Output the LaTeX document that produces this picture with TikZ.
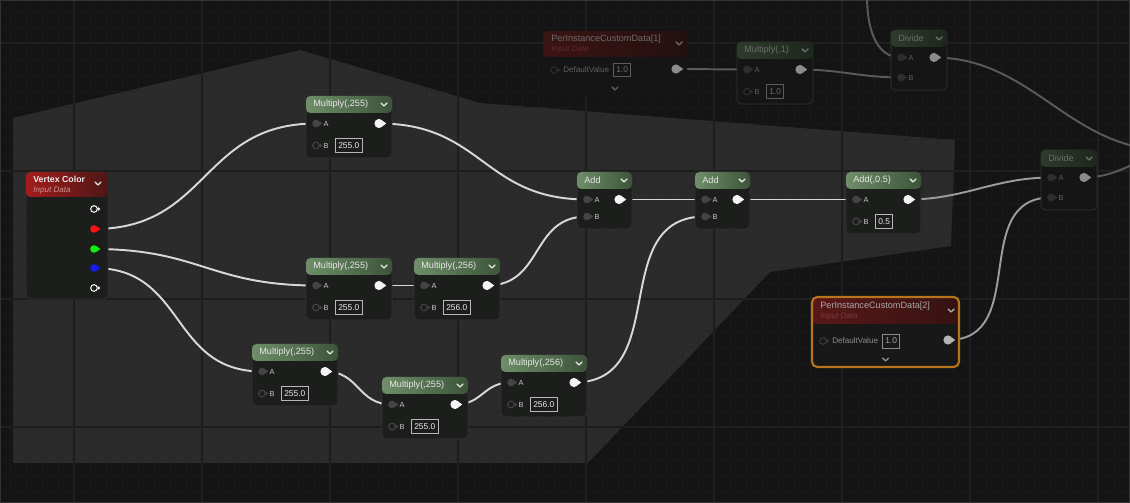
\documentclass[tikz,border=0pt]{standalone}
\usepackage{fontspec}
\newfontfamily\uifont{Liberation Sans}
\usetikzlibrary{calc}
\newcommand{\fsz}[1]{\fontsize{#1}{#1}\selectfont}
% canvas
\definecolor{canvasc}{HTML}{141414}
\definecolor{gminc}{HTML}{191919}
\definecolor{gmajc}{HTML}{1F1F1F}
\definecolor{zonec}{HTML}{2B2B2B}
\definecolor{zminc}{HTML}{272727}
\definecolor{zmajc}{HTML}{1D1D1D}
\definecolor{framec}{HTML}{333333}
% lit nodes
\definecolor{bodylit}{HTML}{1C1E1C}
\definecolor{hdAlit}{HTML}{6F8E69}
\definecolor{hdBlit}{HTML}{3C5439}
\definecolor{txtlit}{HTML}{E8E8E8}
\definecolor{lbllit}{HTML}{C8C8C8}
\definecolor{pinlit}{HTML}{444444}
\definecolor{outlit}{HTML}{F4F4F4}
\definecolor{boxlit}{HTML}{B8B8B8}
% dim nodes
\definecolor{bodydim}{HTML}{141514}
\definecolor{hdAdim}{HTML}{2E3B2C}
\definecolor{hdBdim}{HTML}{1E271D}
\definecolor{txtdim}{HTML}{6C6C6C}
\definecolor{lbldim}{HTML}{5E5E5E}
\definecolor{pindim}{HTML}{2E2E2E}
\definecolor{outdim}{HTML}{8C8C8C}
\definecolor{boxdim}{HTML}{5C5C5C}
\definecolor{rdAdim}{HTML}{3C1414}
\definecolor{rdBdim}{HTML}{241010}
\definecolor{subdim}{HTML}{5E2A2A}
% selected input node
\definecolor{bodymid}{HTML}{181818}
\definecolor{txtmid}{HTML}{A8A8A8}
\definecolor{lblmid}{HTML}{8C8C8C}
\definecolor{pinmid}{HTML}{3A3A3A}
\definecolor{outmid}{HTML}{B4B4B4}
\definecolor{boxmid}{HTML}{8A8A8A}
\definecolor{rdAmid}{HTML}{5A1818}
\definecolor{rdBmid}{HTML}{361212}
\definecolor{submid}{HTML}{7A3A3A}
\definecolor{selc}{HTML}{B8741C}
% vertex colour
\definecolor{vcA}{HTML}{A31D1D}
\definecolor{vcB}{HTML}{4E1616}
\definecolor{vcsub}{HTML}{D09090}
\definecolor{pinred}{HTML}{FF1010}
\definecolor{pingreen}{HTML}{10F010}
\definecolor{pinblue}{HTML}{1818F0}
% wires
\definecolor{wirelit}{HTML}{D8D8D8}
\definecolor{wiremid}{HTML}{9C9C9C}
\definecolor{wiredim}{HTML}{5A5A5A}
\tikzset{
  ttl/.style={font=\uifont\fsz{5.2},inner sep=0pt,anchor=west,text=txtlit},
  sub/.style={font=\uifont\itshape\fsz{4.6},inner sep=0pt,anchor=west},
  plbl/.style={font=\uifont\fsz{4.2},inner sep=0pt},
  vbox/.style={draw,line width=0.5pt,font=\uifont\fsz{4.8},inner xsep=1.6pt,inner ysep=0.8pt,minimum height=7.9pt,anchor=west},
  chev/.style={line width=0.8pt,line cap=round,line join=round},
  wire/.style={line width=1.1pt,draw=wirelit},
  wirem/.style={wire,draw=wiremid},
  wired/.style={wire,draw=wiredim},
  pics/pinf/.style={code={\fill[#1] (0,0) circle[radius=3.8] (3.4,-2.2) -- (6.4,0) -- (3.4,2.2) -- cycle;}},
  pics/pout/.style={code={\fill[#1] (0,0) circle[radius=4.6] (4,-2.4) -- (7.2,0) -- (4,2.4) -- cycle;}},
  pics/pino/.style={code={\draw[#1,line width=0.6pt] (0,0) circle[radius=3.3]; \fill[#1] (3.9,-2) -- (6.4,0) -- (3.9,2) -- cycle;}},
}
\pgfdeclarelayer{bg}
\pgfdeclarelayer{wires}
\pgfsetlayers{bg,wires,main}
\newcommand{\mathnode}[8]{% name, x, y, width, height, title, B value, lit/dim
  \begin{scope}[shift={(#2,#3)}]
    \fill[body#8,rounded corners=2.5pt] (0,0) rectangle (#4,#5);
    \draw[black!80,line width=0.4pt,rounded corners=2.5pt] (0,0) rectangle (#4,#5);
    \shade[left color=hdA#8,right color=hdB#8,rounded corners=2.5pt] (0,0) rectangle (#4,17);
    \node[ttl,text=txt#8] (#1-t) at (7,8.5) {#6};
    \draw[chev,draw=txt#8] (#4-11,7) -- (#4-8,10) -- (#4-5,7);
    \coordinate (#1-a) at (10,27.5);
    \coordinate (#1-b) at (10,#5-12.5);
    \coordinate (#1-o) at (#4-13,27.5);
    \pic at (#1-a) {pinf=pin#8};
    \pic at (#1-o) {pout=out#8};
    \node[plbl,text=lbl#8] (#1-la) at (20,27.5) {A};
    \node[plbl,text=lbl#8] (#1-lb) at (20,#5-12.5) {B};
    \if\relax\detokenize{#7}\relax
      \pic at (#1-b) {pinf=pin#8};
    \else
      \pic at (#1-b) {pino=pin#8};
      \node[vbox,draw=box#8,text=txt#8] (#1-v) at (29,#5-12.5) {#7};
    \fi
  \end{scope}}
\newcommand{\inputnode}[7]{% name, x, y, width, height, title, dim/mid
  \begin{scope}[shift={(#2,#3)}]
    \fill[body#7,rounded corners=2.5pt] (0,0) rectangle (#4,#5);
    \shade[left color=rdA#7,right color=rdB#7,rounded corners=2.5pt] (0,0) rectangle (#4,26);
    \node[ttl,text=txt#7] (#1-t) at (8,8) {#6};
    \node[sub,text=sub#7] (#1-s) at (8,19) {Input Data};
    \draw[chev,draw=txt#7] (#4-11,11) -- (#4-8,14) -- (#4-5,11);
    \coordinate (#1-i) at (11,#5-27);
    \coordinate (#1-o) at (#4-11,#5-28);
    \pic at (#1-i) {pino=pin#7};
    \node[plbl,font=\uifont\fsz{4.6},text=lbl#7,anchor=west] (#1-l) at (20,#5-27) {DefaultValue};
    \node[vbox,draw=box#7,text=txt#7] (#1-v) at (70,#5-27) {1.0};
    \pic at (#1-o) {pout=out#7};
    \draw[chev,draw=lbl#7] (#4/2-3,#5-10) -- (#4/2,#5-7) -- (#4/2+3,#5-10);
  \end{scope}}
\def\zonepath{(13,118) -- (300,50) -- (480,103) -- (955,140) -- (951,246) -- (770,272) -- (588,463) -- (13,463) -- cycle}

\begin{document}
\begin{tikzpicture}[x=0.02cm,y=-0.02cm]
  \useasboundingbox (0,0) rectangle (1130,503);
  \begin{pgfonlayer}{bg}
    \fill[canvasc] (0,0) rectangle (1130,503);
    \foreach \gx in {10,26,...,1130} \draw[gminc,line width=0.4pt] (\gx,0) -- (\gx,503);
    \foreach \gy in {11,27,...,503} \draw[gminc,line width=0.4pt] (0,\gy) -- (1130,\gy);
    \foreach \gx in {74,202,...,1130} \draw[gmajc,line width=0.8pt] (\gx,0) -- (\gx,503);
    \foreach \gy in {43,171,...,503} \draw[gmajc,line width=0.8pt] (0,\gy) -- (1130,\gy);
    \fill[zonec] \zonepath;
    \begin{scope}
      \clip \zonepath;
      \foreach \gx in {10,26,...,1130} \draw[zminc,line width=0.4pt] (\gx,0) -- (\gx,503);
      \foreach \gy in {11,27,...,503} \draw[zminc,line width=0.4pt] (0,\gy) -- (1130,\gy);
      \foreach \gx in {74,202,...,1130} \draw[zmajc,line width=0.8pt] (\gx,0) -- (\gx,503);
      \foreach \gy in {43,171,...,503} \draw[zmajc,line width=0.8pt] (0,\gy) -- (1130,\gy);
    \end{scope}
    \draw[framec,line width=1.2pt] (0,0) rectangle (1130,503);
  \end{pgfonlayer}

  % vertex colour
  \fill[bodylit,rounded corners=2.5pt] (26,172) rectangle (108,299);
  \draw[black!80,line width=0.4pt,rounded corners=2.5pt] (26,172) rectangle (108,299);
  \shade[left color=vcA,right color=vcB,rounded corners=2.5pt] (26,172) rectangle (108,197);
  \node[ttl,font=\uifont\bfseries\fsz{5}] (vc-t) at (33,179.5) {Vertex Color};
  \node[sub,text=vcsub] (vc-s) at (33,190.5) {Input Data};
  \draw[chev,draw=txtlit] (95,182) -- (98,185) -- (101,182);
  \coordinate (vc-w1) at (94,209);
  \coordinate (vc-r) at (94,229);
  \coordinate (vc-g) at (94,249);
  \coordinate (vc-b) at (94,268);
  \coordinate (vc-w2) at (94,288);
  \pic at (vc-w1) {pino=outlit};
  \pic at (vc-r) {pinf=pinred};
  \pic at (vc-g) {pinf=pingreen};
  \pic at (vc-b) {pinf=pinblue};
  \pic at (vc-w2) {pino=outlit};

  % math nodes
  \mathnode{m1}{306}{96}{86}{62}{Multiply(,255)}{255.0}{lit}
  \mathnode{m2}{306}{258}{86}{62}{Multiply(,255)}{255.0}{lit}
  \mathnode{m3}{414}{258}{86}{62}{Multiply(,256)}{256.0}{lit}
  \mathnode{m4}{252}{344}{86}{62}{Multiply(,255)}{255.0}{lit}
  \mathnode{m5}{382}{377}{86}{62}{Multiply(,255)}{255.0}{lit}
  \mathnode{m6}{501}{355}{86}{62}{Multiply(,256)}{256.0}{lit}
  \mathnode{add1}{577}{172}{55}{57}{Add}{}{lit}
  \mathnode{add2}{695}{172}{55}{57}{Add}{}{lit}
  \mathnode{add3}{846}{172}{75}{62}{Add(,0.5)}{0.5}{lit}
  \mathnode{mul1}{737}{42}{76}{62}{Multiply(,1)}{1.0}{dim}
  \mathnode{div1}{891}{30}{56}{60}{Divide}{}{dim}
  \mathnode{div2}{1041}{150}{56}{60}{Divide}{}{dim}

  % custom data
  \inputnode{pcd1}{543}{31}{144}{66}{PerInstanceCustomData[1]}{dim}
  \inputnode{pcd2}{812}{298}{147}{70}{PerInstanceCustomData[2]}{mid}
  \draw[selc,line width=1.2pt,rounded corners=3pt] (pcd2-t.west) ++(-8,-9) rectangle ++(147,70);

  \coordinate (topin) at (867,-4);
  \coordinate (exit1) at (1168,150);
  \coordinate (exit2) at (1185,150);

  \begin{pgfonlayer}{wires}
    \draw[wire] (vc-r) to[out=0,in=180,looseness=1.2] (m1-a);
    \draw[wire] (vc-g) to[out=0,in=180,looseness=1.2] (m2-a);
    \draw[wire] (vc-b) to[out=0,in=180,looseness=1.2] (m4-a);
    \draw[wire] (m1-o) to[out=0,in=180,looseness=1.2] (add1-a);
    \draw[wire] (m2-o) to[out=0,in=180] (m3-a);
    \draw[wire] (m3-o) to[out=0,in=180,looseness=1.2] (add1-b);
    \draw[wire] (m4-o) to[out=0,in=180,looseness=1.2] (m5-a);
    \draw[wire] (m5-o) to[out=0,in=180,looseness=1.2] (m6-a);
    \draw[wire] (m6-o) to[out=0,in=180,looseness=1.2] (add2-b);
    \draw[wire] (add1-o) to[out=0,in=180] (add2-a);
    \draw[wire] (add2-o) to[out=0,in=180] (add3-a);
    \draw[wirem] (add3-o) to[out=0,in=180] (div2-a);
    \draw[wirem] (pcd2-o) to[out=0,in=180,looseness=1.2] (div2-b);
    \draw[wired] (pcd1-o) to[out=0,in=180] (mul1-a);
    \draw[wired] (mul1-o) to[out=0,in=180] (div1-b);
    \draw[wired] (topin) to[out=-90,in=180] (div1-a);
    \draw[wired] (div1-o) to[out=0,in=180] (exit1);
    \draw[wired] (div2-o) to[out=0,in=180] (exit2);
  \end{pgfonlayer}
\end{tikzpicture}
\end{document}
